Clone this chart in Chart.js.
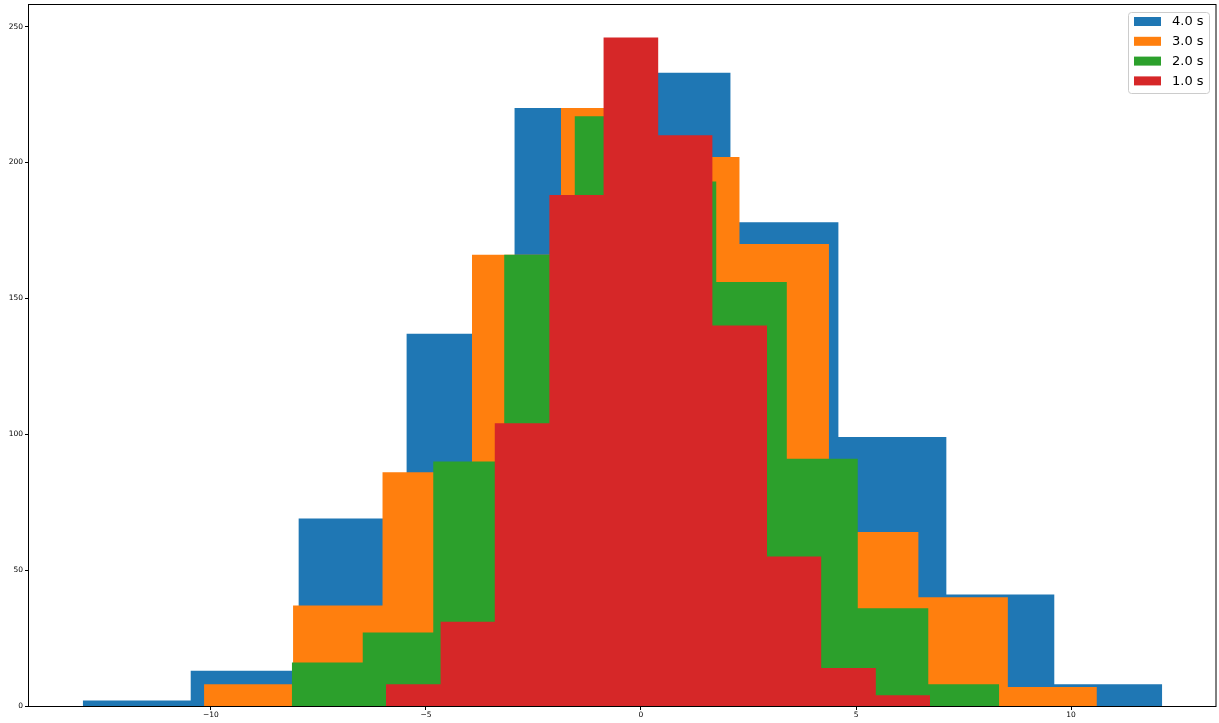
<!DOCTYPE html>
<html>
<head>
<meta charset="utf-8">
<script src="https://cdn.jsdelivr.net/npm/chart.js@4.4.0/dist/chart.umd.min.js"></script>
<style>body{margin:0;background:#fff}</style>
</head>
<body>
<canvas id="chart" width="1219" height="723"></canvas>
<script>
// series as shown in the legend, top to bottom
const seriesLabels = ['4.0 s', '3.0 s', '2.0 s', '1.0 s'];
const seriesColors = ['#1f77b4', '#ff7f0e', '#2ca02c', '#d62728'];

// bin edges and counts
const edges4 = [-12.98, -10.47, -7.96, -5.45, -2.94, -0.43, 2.08, 4.59, 7.10, 9.61, 12.12];
const counts4 = [2, 13, 69, 137, 220, 233, 178, 99, 41, 8];
const edges3 = [-10.16, -8.09, -6.01, -3.93, -1.86, 0.22, 2.29, 4.37, 6.45, 8.53, 10.60];
const counts3 = [8, 37, 86, 166, 220, 202, 170, 64, 40, 7];
const edges2 = [-8.12, -6.47, -4.83, -3.18, -1.54, 0.10, 1.75, 3.39, 5.04, 6.68, 8.33];
const counts2 = [16, 27, 90, 166, 217, 193, 156, 91, 36, 8];
const edges1 = [-5.93, -4.66, -3.40, -2.13, -0.87, 0.40, 1.66, 2.93, 4.19, 5.46, 6.72];
const counts1 = [8, 31, 104, 188, 246, 210, 140, 55, 14, 4];

const xTicks = [-10, -5, 0, 5, 10];
const yTicks = [0, 50, 100, 150, 200, 250];

// turn edges + counts into step points
function steps(edges, counts) {
    const pts = counts.map((c, i) => ({ x: edges[i], y: c }));
    pts.push({ x: edges[edges.length - 1], y: counts[counts.length - 1] });
    return pts;
}

const allEdges = [edges4, edges3, edges2, edges1];
const allCounts = [counts4, counts3, counts2, counts1];

// first dataset is drawn last, so put 1.0 s first to keep it on top
const datasets = seriesLabels.map((label, i) => ({
    label: label,
    data: steps(allEdges[i], allCounts[i]),
    stepped: 'before',
    fill: 'origin',
    backgroundColor: seriesColors[i],
    borderColor: seriesColors[i],
    borderWidth: 0,
    pointRadius: 0,
    pointHoverRadius: 0
})).reverse();

const tickFont = { family: 'DejaVu Sans', size: 7.5 };
const fmt = v => v < 0 ? '\u2212' + Math.abs(v) : String(v);

const frameAndLegend = {
    id: 'frameAndLegend',
    afterDraw(chart) {
        const ctx = chart.ctx;
        const a = chart.chartArea;
        ctx.save();
        ctx.strokeStyle = '#000';
        ctx.lineWidth = 1;
        ctx.strokeRect(a.left - 0.5, a.top + 0.5, a.right - a.left + 0.5, a.bottom - a.top);

        // legend box, top right inside the axes
        const w = 81, h = 81;
        const bx = a.right - 7 - w, by = a.top + 8;
        ctx.beginPath();
        ctx.roundRect(bx + 0.5, by + 0.5, w, h, 3);
        ctx.fillStyle = 'rgba(255,255,255,0.8)';
        ctx.fill();
        ctx.strokeStyle = '#cccccc';
        ctx.stroke();

        ctx.font = '13px "DejaVu Sans"';
        ctx.textBaseline = 'middle';
        ctx.textAlign = 'left';
        seriesLabels.forEach((label, i) => {
            const cy = by + 9.5 + i * 19.8;
            ctx.fillStyle = seriesColors[i];
            ctx.fillRect(bx + 6, cy - 4.5, 27, 9);
            ctx.fillStyle = '#000';
            ctx.fillText(label, bx + 44, cy + 0.5);
        });
        ctx.restore();
    }
};

const config = {
    type: 'line',
    data: { datasets },
    options: {
        responsive: false,
        animation: false,
        events: [],
        layout: {
            autoPadding: false,
            padding: { top: 4, right: 3, bottom: 0, left: 0 }
        },
        plugins: {
            legend: { display: false },
            tooltip: { enabled: false }
        },
        scales: {
            x: {
                type: 'linear',
                min: -14.23,
                max: 13.37,
                afterBuildTicks: s => { s.ticks = xTicks.map(v => ({ value: v })); },
                afterFit: s => { s.height = 17; s.paddingLeft = 0; s.paddingRight = 0; },
                border: { display: false },
                grid: { drawOnChartArea: false, drawTicks: true, tickLength: 4, color: '#000' },
                ticks: { font: tickFont, color: '#000', padding: 1, maxRotation: 0, callback: fmt }
            },
            y: {
                type: 'linear',
                min: 0,
                max: 258.3,
                afterBuildTicks: s => { s.ticks = yTicks.map(v => ({ value: v })); },
                afterFit: s => { s.width = 29; s.paddingTop = 0; s.paddingBottom = 0; },
                border: { display: false },
                grid: { drawOnChartArea: false, drawTicks: true, tickLength: 4, color: '#000' },
                ticks: { font: tickFont, color: '#000', padding: 2, callback: fmt }
            }
        }
    },
    plugins: [frameAndLegend]
};

var chart = document.getElementById('chart');
var myChart = new Chart(chart, config);
</script>
</body>
</html>
